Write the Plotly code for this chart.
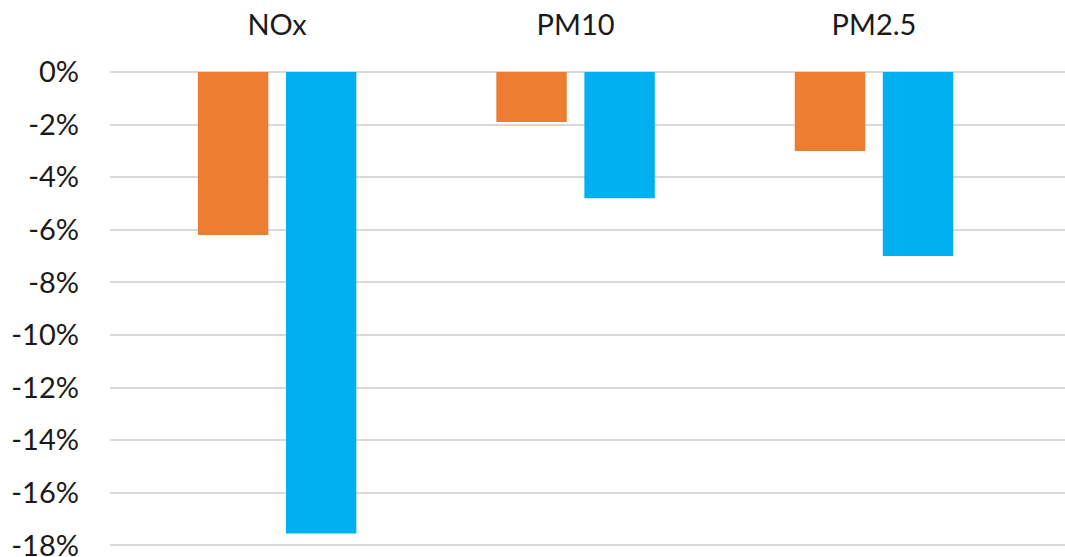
import plotly.graph_objects as go

categories = ["NOx", "PM10", "PM2.5"]
series_a = [-0.062, -0.019, -0.030]
series_b = [-0.1755, -0.048, -0.070]
y_ticks = [0, -0.02, -0.04, -0.06, -0.08, -0.10, -0.12, -0.14, -0.16, -0.18]
y_tick_text = ["0%", "-2%", "-4%", "-6%", "-8%", "-10%", "-12%", "-14%", "-16%", "-18%"]

fig = go.Figure()
fig.add_trace(go.Bar(x=categories, y=series_a, marker=dict(color="#ED7D31", line=dict(width=0)), name="A"))
fig.add_trace(go.Bar(x=categories, y=series_b, marker=dict(color="#00B0F0", line=dict(width=0)), name="B"))

font = dict(family="Lato, 'Open Sans', sans-serif", size=29, color="#1a1a1a")
fig.update_layout(
    width=1065, height=557,
    margin=dict(l=110, r=0, t=72, b=10),
    paper_bgcolor="white", plot_bgcolor="white",
    showlegend=False,
    barmode="group", bargap=0.41, bargroupgap=0.2,
    font=font,
    xaxis=dict(side="top", range=[-0.56, 2.64], showgrid=False, showline=False,
               zeroline=False, ticks="", ticklabelstandoff=30, tickfont=font,
               automargin=False),
    yaxis=dict(range=[-0.1806, 0], tickvals=y_ticks, ticktext=y_tick_text,
               showgrid=True, gridcolor="#d9d9d9", gridwidth=2,
               zeroline=True, zerolinecolor="#d9d9d9", zerolinewidth=2,
               showline=False, ticks="", ticklabelstandoff=30, tickfont=font,
               ticklabeloverflow="allow", automargin=False),
)
fig.write_html("out.html")
